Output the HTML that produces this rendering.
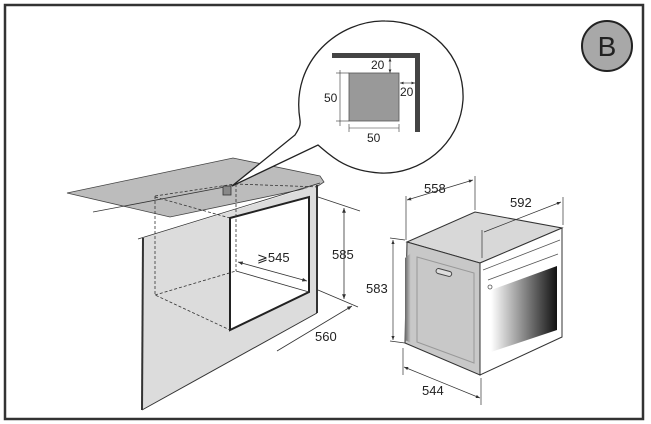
<!DOCTYPE html>
<html><head><meta charset="utf-8"><style>
html,body{margin:0;padding:0;background:#fff;}
svg{display:block;}
text{font-family:"Liberation Sans",sans-serif;fill:#222;}
</style></head><body>
<svg width="651" height="424" viewBox="0 0 651 424" xmlns="http://www.w3.org/2000/svg">
<defs>
<linearGradient id="win" x1="0" y1="0" x2="1" y2="0">
<stop offset="0" stop-color="#fff"/><stop offset="0.5" stop-color="#888"/><stop offset="1" stop-color="#111"/>
</linearGradient>
<linearGradient id="side" x1="0" y1="0" x2="1" y2="0">
<stop offset="0" stop-color="#666"/><stop offset="1" stop-color="#ccc"/>
</linearGradient>
<marker id="a" viewBox="0 0 10 10" refX="10" refY="5" markerWidth="6" markerHeight="6" orient="auto-start-reverse"><path d="M0,1 L10,5 L0,9 Z" fill="#333"/></marker>
</defs>
<rect x="5" y="5" width="638" height="414" fill="#fff" stroke="#333" stroke-width="2.5"/>

<circle cx="607" cy="46" r="25" fill="#a8a8a8" stroke="#222" stroke-width="2"/>
<text x="607" y="56" font-size="28" text-anchor="middle">B</text>

<!-- cabinet -->
<polygon points="67,193 233,158 320,176 324,182 318,186 170,217" fill="#bcbcbc" stroke="#444" stroke-width="0.8"/>
<polygon points="143,238 317,185 317,313 142,410" fill="#dcdcdc"/>
<line x1="143" y1="238" x2="142" y2="410" stroke="#333" stroke-width="2"/>
<line x1="317" y1="185" x2="317" y2="313" stroke="#333" stroke-width="2"/>
<line x1="142" y1="410" x2="317" y2="313" stroke="#333" stroke-width="1"/>
<line x1="138" y1="239" x2="320" y2="183" stroke="#333" stroke-width="0.8"/>
<polygon points="230,218 309,197 309,292 230,330" fill="#fff" stroke="#222" stroke-width="2"/>
<line x1="93" y1="212" x2="235" y2="185" stroke="#333" stroke-width="0.8"/>
<g stroke="#333" stroke-width="0.8" stroke-dasharray="3,2" fill="none">
<polyline points="155,196 155,295 230,330"/>
<line x1="155" y1="295" x2="236" y2="271"/>
<line x1="155" y1="196" x2="235" y2="184"/>
<line x1="235" y1="184" x2="320" y2="187"/>
<line x1="236" y1="184" x2="236" y2="271"/>
<line x1="155" y1="197" x2="230" y2="218"/>
</g>
<line x1="236" y1="271" x2="309" y2="292" stroke="#333" stroke-width="0.8"/>
<rect x="223" y="186" width="8" height="9" fill="#888" stroke="#333" stroke-width="0.8"/>
<g stroke="#333" stroke-width="0.8" fill="none">
<line x1="318" y1="197" x2="360" y2="211"/>
<line x1="318" y1="290" x2="358" y2="307"/>
<line x1="344" y1="208" x2="344" y2="299" marker-start="url(#a)" marker-end="url(#a)"/>
<line x1="238" y1="262" x2="307" y2="281" marker-start="url(#a)" marker-end="url(#a)"/>
<line x1="277" y1="351" x2="352" y2="306" marker-end="url(#a)"/>
</g>
<text x="332" y="259" font-size="13">585</text>
<text x="257" y="262" font-size="13">⩾545</text>
<text x="315" y="341" font-size="13">560</text>

<!-- bubble -->
<path d="M300,120 C290,60 340,20 385,21 C430,21 465,55 463,100 C460,145 420,175 380,173 C345,171 330,155 318,145 L232,186 L295,135 C298,130 301,126 300,120 Z" fill="#fff" stroke="#222" stroke-width="1.3"/>
<polygon points="332,53 420,53 420,132 415,132 415,58 332,58" fill="#444"/>
<rect x="349" y="73" width="50" height="48" fill="#999" stroke="#555" stroke-width="0.8"/>
<g stroke="#333" stroke-width="0.6" fill="none">
<line x1="340" y1="70" x2="340" y2="126"/><line x1="336" y1="73" x2="349" y2="73"/><line x1="336" y1="121" x2="349" y2="121"/>
<line x1="349" y1="128" x2="399" y2="128"/><line x1="349" y1="124" x2="349" y2="132"/><line x1="399" y1="124" x2="399" y2="132"/>
<line x1="390" y1="58" x2="390" y2="73" marker-start="url(#a)" marker-end="url(#a)"/>
<line x1="400" y1="83" x2="415" y2="83" marker-start="url(#a)" marker-end="url(#a)"/>
</g>
<text x="371" y="69" font-size="12">20</text>
<text x="400" y="96" font-size="12">20</text>
<text x="324" y="102" font-size="12">50</text>
<text x="367" y="142" font-size="12">50</text>

<!-- oven -->
<polygon points="407,242 475,212 562,228 480,263" fill="#d8d8d8" stroke="#333" stroke-width="1"/>
<polygon points="407,242 480,263 480,375 405,343" fill="#c8c8c8" stroke="#333" stroke-width="1"/>
<polygon points="405,258 411,253 411,343 405,340" fill="url(#side)"/>
<polygon points="417,257 474,273 474,363 417,342" fill="none" stroke="#999" stroke-width="1"/>
<rect x="436" y="270" width="16" height="5" rx="2.5" fill="#ddd" stroke="#444" stroke-width="1" transform="rotate(15 444 272)"/>
<polygon points="480,263 562,228 562,337 480,375" fill="#fff" stroke="#333" stroke-width="1"/>
<line x1="483" y1="270" x2="560" y2="240" stroke="#555" stroke-width="0.8"/>
<line x1="488" y1="280" x2="558" y2="254" stroke="#555" stroke-width="0.8"/>
<polygon points="491,290 557,266 557,330 491,352" fill="url(#win)"/>
<circle cx="490" cy="287" r="2" fill="#fff" stroke="#555" stroke-width="0.8"/>
<g stroke="#333" stroke-width="0.7" fill="none">
<line x1="406" y1="196" x2="406" y2="240"/><line x1="475" y1="176" x2="475" y2="210"/>
<line x1="407" y1="200" x2="473" y2="180" marker-start="url(#a)" marker-end="url(#a)"/>
<line x1="563" y1="197" x2="563" y2="225"/><line x1="482" y1="230" x2="482" y2="258"/>
<line x1="484" y1="232" x2="561" y2="202" marker-end="url(#a)"/>
<line x1="390" y1="238" x2="405" y2="240"/><line x1="390" y1="341" x2="405" y2="343"/>
<line x1="393" y1="240" x2="393" y2="340" marker-start="url(#a)" marker-end="url(#a)"/>
<line x1="403" y1="348" x2="403" y2="375"/><line x1="481" y1="378" x2="481" y2="405"/>
<line x1="404" y1="367" x2="480" y2="398" marker-start="url(#a)" marker-end="url(#a)"/>
</g>
<text x="424" y="193" font-size="13">558</text>
<text x="510" y="207" font-size="13">592</text>
<text x="366" y="293" font-size="13">583</text>
<text x="422" y="395" font-size="13">544</text>
</svg>
</body></html>
